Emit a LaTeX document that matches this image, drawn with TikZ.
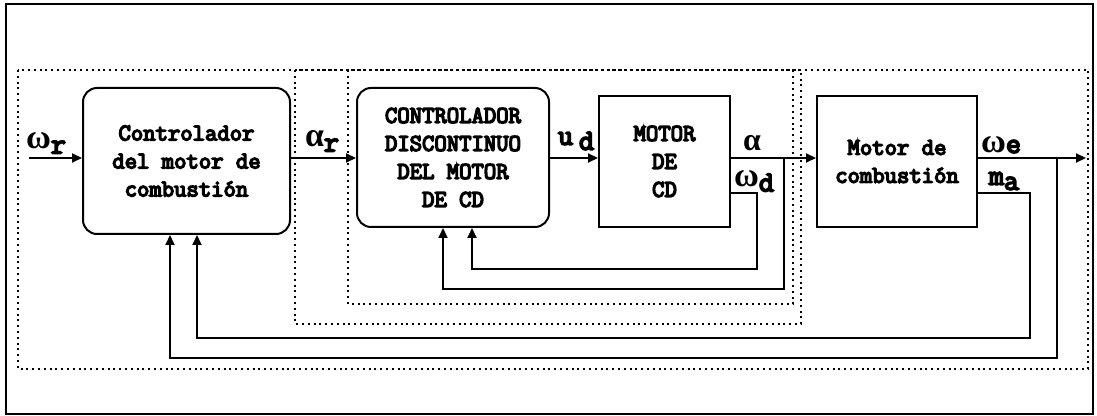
\documentclass[tikz,border=0pt]{standalone}
\usepackage{fontspec}
\newfontfamily\greekfont{Liberation Serif}
\newfontfamily\blkfont{Latin Modern Mono}[FakeBold=6]
\usetikzlibrary{arrows.meta}

\newcommand\glab[2]{{\greekfont\bfseries\fontsize{17}{17}\selectfont #1}\raisebox{-2.5pt}{#2}}

\tikzset{
  blk/.style={draw,line width=1pt,inner sep=0pt,align=center,
    font=\blkfont\fontsize{12}{14}\selectfont},
  rblk/.style={blk,rounded corners=7pt},
  dotbox/.style={line width=1pt,dash pattern=on 1pt off 1.9pt},
  wire/.style={line width=1pt,-{Triangle[length=5pt,width=4.5pt]}},
  lab/.style={inner sep=0pt,font=\blkfont\fontsize{14.5}{14.5}\selectfont},
}

\begin{document}
\begin{tikzpicture}[x=0.5pt,y=-0.5pt,line join=miter]
  \useasboundingbox (0,0) rectangle (1097,416);
  \draw[line width=1pt] (6,4) rectangle (1093,414);

  % dotted groups
  \draw[dotbox] (18,70) rectangle (1088,369);
  \draw[dotbox] (295,70) rectangle (801,324);
  \draw[dotbox] (348,70) rectangle (793,304);

  % blocks
  \node[rblk,minimum width=103.5pt,minimum height=73pt] (ctrlm) at (186.5,161)
    {Controlador\\del motor de\\combusti\'on};
  \node[rblk,minimum width=96pt,minimum height=69.5pt] (ctrld) at (453,157.5)
    {CONTROLADOR\\DISCONTINUO\\DEL MOTOR\\DE CD};
  \node[blk,minimum width=65.5pt,minimum height=65.5pt] (mcd) at (664.5,161.5)
    {MOTOR\\DE\\CD};
  \node[blk,minimum width=80pt,minimum height=65.5pt] (mcomb) at (897,161.5)
    {Motor de\\combusti\'on};

  % forward path
  \coordinate (in) at (29,158);
  \coordinate (out) at (1086,158);
  \draw[wire] (in) -- (in -| ctrlm.west);
  \draw[wire] (in -| ctrlm.east) -- (in -| ctrld.west);
  \draw[wire] (in -| ctrld.east) -- (in -| mcd.west);
  \draw[wire] (in -| mcd.east) -- (in -| mcomb.west);
  \draw[wire] (in -| mcomb.east) -- (out);

  % inner feedback
  \coordinate (wd) at (757,193);
  \coordinate (fbA) at (472,269);
  \coordinate (al) at (784,289);
  \coordinate (fbB) at (443,289);
  \draw[wire] (mcd.east |- wd) -- (wd) |- (fbA) -- (fbA |- ctrld.south);
  \draw[wire] (al |- in) -- (al) -- (fbB) -- (fbB |- ctrld.south);

  % outer feedback
  \coordinate (ma) at (1030,193);
  \coordinate (fbC) at (197,338);
  \coordinate (we) at (1057,358);
  \coordinate (fbD) at (170,358);
  \draw[wire] (mcomb.east |- ma) -- (ma) |- (fbC) -- (fbC |- ctrlm.south);
  \draw[wire] (we |- in) -- (we) -- (fbD) -- (fbD |- ctrlm.south);

  % signal labels
  \node[lab] (lwr) at (46,143) {\glab{ω}{r}};
  \node[lab] (lar) at (322,141) {\glab{α}{r}};
  \node[lab] (lud) at (576,141) {u\kern3pt\raisebox{-2.5pt}{d}};
  \node[lab] (lal) at (752,143) {{\greekfont\bfseries\fontsize{16}{16}\selectfont α}};
  \node[lab] (lwd) at (754,181) {\glab{ω}{d}};
  \node[lab] (lwe) at (1001,145) {{\greekfont\bfseries\fontsize{17}{17}\selectfont ω}e};
  \node[lab] (lma) at (1004,181) {m\raisebox{-2.5pt}{a}};
\end{tikzpicture}
\end{document}
